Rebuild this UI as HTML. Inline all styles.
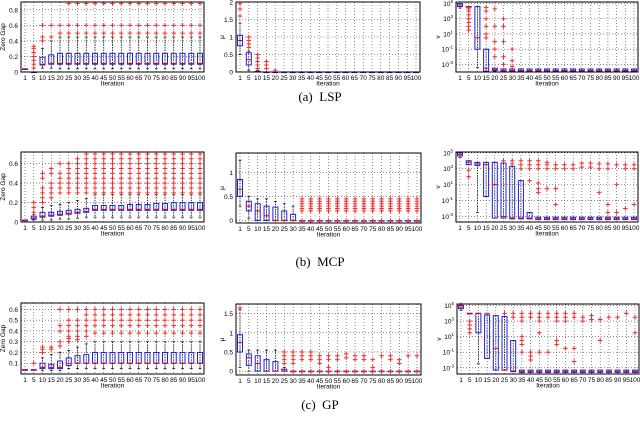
<!DOCTYPE html>
<html><head><meta charset="utf-8"><style>
html,body{margin:0;padding:0;background:#fff;width:640px;height:429px;overflow:hidden}
svg{display:block}
text{font-family:"Liberation Sans",sans-serif}
</style></head><body>
<svg id="fig" width="640" height="429"></svg>
<script>
const categories=[1,5,10,15,20,25,30,35,40,45,50,55,60,65,70,75,80,85,90,95,100];
categories.splice(0,0);const cats=[1,5,10,15,20,25,30,35,40,45,50,55,60,65,70,75,80,85,90,95,100].filter((v,i)=>i<20||true);
// 20 categories as in the figure: 1,5,...,95,100 (5 is not repeated)
const iterations=[1,5,10,15,20,25,30,35,40,45,50,55,60,65,70,75,80,85,90,95,100].slice(0,21);
const R=(v,n)=>Array(n).fill(v);
// ---- LSP ----
const a1Q1=[0.04,0,0.09,0.1,...R(0.1,17)];
const a1Med=[0.04,0,0.1,0.11,...R(0.11,17)];
const a1Q3=[0.04,0,0.19,0.22,...R(0.24,17)];
const a1Lo=[0.04,0,0.05,0.05,...R(0.04,17)];
const a1Hi=[0.04,0,0.3,0.4,...R(0.45,17)];
const a1Out=[[],[0.05,0.1,0.15,0.2,0.25,0.3,0.33],[0.4,0.45,0.6],[0.45,0.6],[0.5,0.6],...R([0.5,0.6,0.88],16)];
const a2Q1=[0.75,0.2,...R(0,19)];
const a2Med=[0.9,0.35,...R(0,19)];
const a2Q3=[1.05,0.55,0.02,...R(0,18)];
const a2Lo=[0.5,0.05,...R(0,19)];
const a2Hi=[1.4,0.6,0.05,...R(0,18)];
const a2Out=[[1.6,1.8,1.95],[0.7,0.8,0.9,1.0],[0.1,0.2,0.3,0.4,0.5],[0.1,0.2,0.3],[0.05],...R([],16)];
const a3Q1=[4.6,4.6,-1,-3.9,-3.8,...R(-3.9,16)];
const a3Med=[4.8,4.6,0.5,-3.5,-3.7,...R(-3.8,16)];
const a3Q3=[5.0,4.6,4.6,-1,-3.5,...R(-3.6,16)];
const a3Lo=[4.4,4.6,-3.4,-3.9,-3.9,...R(-3.9,16)];
const a3Hi=[5.0,4.6,4.6,-1,-3.5,...R(-3.6,16)];
const a3Out=[[],[1.5,2,2.5,3,3.5,4,4.3],[],[0.5,1,2,3,4,4.5],[-2,-1,0,2,4.3],[-3,-2,0,2,3],[-3.3,-2.5,-1],...R([],14)];
// ---- MCP ----
const b1Q1=[0.02,0.03,0.05,0.06,0.07,0.08,0.09,0.1,...R(0.12,13)];
const b1Med=[0.02,0.04,0.06,0.07,0.08,0.09,0.1,0.11,...R(0.13,13)];
const b1Q3=[0.02,0.06,0.1,0.1,0.11,0.12,0.13,0.14,0.17,0.17,0.17,0.17,0.18,0.18,0.18,0.19,0.19,0.2,0.2,0.2,0.2];
const b1Lo=[0.02,0.02,0.02,0.02,0.03,0.03,0.04,0.05,...R(0.05,13)];
const b1Hi=[0.02,0.08,0.15,0.17,0.18,0.2,0.22,0.24,...R(0.28,13)];
const b1Out=[[],[0.1,0.15,0.2],[0.2,0.25,0.3,0.35,0.45,0.5],[0.25,0.3,0.35,0.4,0.5,0.55],[0.3,0.35,0.4,0.45,0.5,0.6],[0.3,0.35,0.4,0.45,0.5,0.55,0.6],[0.3,0.35,0.4,0.45,0.5,0.55,0.6,0.65],...R([0.3,0.35,0.4,0.45,0.5,0.55,0.6,0.65,0.7],14)];
const b2Q1=[0.5,0.2,0,0,0,0,0,...R(0,14)];
const b2Med=[0.65,0.3,0.2,0.1,0,0,0,...R(0,14)];
const b2Q3=[0.85,0.4,0.35,0.3,0.28,0.2,0.13,...R(0,14)];
const b2Lo=[0.3,0.05,0,0,0,0,0,...R(0,14)];
const b2Hi=[1.25,0.5,0.45,0.45,0.4,0.35,0.3,...R(0,14)];
const b2Out=[[],[],[],[],[],[],[],...R([0,0.2,0.25,0.3,0.35,0.4,0.45],14)];
const b3Q1=[4.6,3.5,3.4,-0.5,-3.2,-3.2,-3.3,-3.3,-3.3,...R(-3.4,12)];
const b3Med=[4.8,3.8,3.6,3.5,1,-3,-3.2,-3.2,-3.2,...R(-3.3,12)];
const b3Q3=[5.0,4.0,3.8,3.8,3.8,3.7,3.3,1.5,-2.5,...R(-3.1,12)];
const b3Lo=[4.4,3.5,-2.5,-0.5,-3.2,-3.2,-3.3,-3.3,-3.3,...R(-3.4,12)];
const b3Hi=[5.0,4.0,3.8,3.8,3.8,3.7,3.3,1.5,-2.5,...R(-3.1,12)];
const b3Out=[[],[2,2.8],[],[],[],[4],[3.6,4],[3,3.5,4],[1.5,3,3.5,4],[0,0.5,1.2,3,3.5,4],[0.5,3,3.5,3.8],[-1.5,0.5,3,3.5],[3,3.5],[3,3.5],[3.2,3.7],[3.2,3.7],[0,3,3.6],[-2.5,-1.5,3,3.6],[-2.5,1,3.5],[-2,3,3.5],[-1.5,3,3.5]];
// ---- GP ----
const c1Q1=[0.04,0.04,0.05,0.05,0.05,0.08,0.1,0.1,...R(0.1,13)];
const c1Med=[0.04,0.04,0.06,0.06,0.06,0.1,0.1,0.1,...R(0.1,13)];
const c1Q3=[0.04,0.04,0.1,0.09,0.12,0.15,0.17,0.18,...R(0.2,13)];
const c1Lo=[0.04,0.04,0.03,0.03,0.03,0.05,0.05,0.05,...R(0.05,13)];
const c1Hi=[0.04,0.04,0.15,0.18,0.2,0.22,0.25,0.28,...R(0.3,13)];
const c1Out=[[],[0.1],[0.2,0.23,0.25],[0.23,0.25],[0.26,0.3,0.4,0.45,0.6],[0.3,0.33,0.35,0.4,0.45,0.5,0.6],[0.32,0.35,0.4,0.45,0.5,0.6],[0.35,0.4,0.45,0.5,0.55,0.6],...R([0.38,0.45,0.5,0.55,0.6],13)];
const c2Q1=[0.5,0.15,0,0,0,0,...R(0,15)];
const c2Med=[0.75,0.35,0.2,0,0,0,...R(0,15)];
const c2Q3=[0.95,0.45,0.4,0.3,0.25,0.05,...R(0,15)];
const c2Lo=[0.1,0,0,0,0,0,...R(0,15)];
const c2Hi=[1.6,0.55,0.55,0.55,0.55,0.1,...R(0,15)];
const c2Out=[[1.65],[],[],[],[],[0.2,0.3,0.4,0.5],[0,0.2,0.3,0.4,0.5],[0,0.3,0.4,0.5],[0,0.3,0.4,0.5],[0,0.2,0.3,0.4],[0,0.1,0.3,0.4],[0,0.3,0.4],[0,0.35,0.45],[0,0.3,0.4],[0,0.3,0.4],[0,0.1,0.3],[0,0.4],[0,0.3,0.4],[0,0.2,0.3],[0,0.4],[0,0.4]];
const c3Q1=[4.6,4,1.5,-1.8,-3.3,-3.3,-3.5,-3.6,...R(-3.6,13)];
const c3Med=[4.8,4,4,4,-0.5,-3.3,-3.4,-3.5,...R(-3.5,13)];
const c3Q3=[5.0,4,4,3.8,3.7,3.6,0.5,-3.3,...R(-3.3,13)];
const c3Lo=[4.4,4,-2.5,-1.8,-3.3,-3.3,-3.5,-3.6,...R(-3.6,13)];
const c3Hi=[5.0,4,4,3.8,3.7,3.6,0.5,-3.3,...R(-3.3,13)];
const c3Out=[[5.1],[1.5,2,2.5,3],[],[],[],[4],[3.5,4],[-1,0,0.5,1,3,3.5,4],[-2,-1.5,-1,3.5,4],[-1,1.5,3,3.5,4],[-1,3.5,4],[0,0.5,3,3.5,4],[-0.5,3,3.5,4],[-2.2,-0.5,3.5,4],[3,3.5],[3.2,3.7],[0.5,3.2],[3.5],[3.5],[4],[1.5,3.5]];

const panels=[
 {name:'lsp-zero-gap',x0:21,x1:204,y0:2,y1:72,min:0,max:0.9,ticks:[0,0.2,0.4,0.6,0.8],lab:'Zero Gap',log:false,d:[a1Q1,a1Med,a1Q3,a1Lo,a1Hi,a1Out]},
 {name:'lsp-mu',x0:236,x1:420,y0:2,y1:72,min:0,max:2,ticks:[0,0.5,1,1.5,2],lab:'\u03BC',log:false,d:[a2Q1,a2Med,a2Q3,a2Lo,a2Hi,a2Out]},
 {name:'lsp-nu',x0:456,x1:638,y0:2,y1:72,min:-4,max:5.2,ticks:[5,3,1,-1,-3],lab:'\u03BD',log:true,d:[a3Q1,a3Med,a3Q3,a3Lo,a3Hi,a3Out]},
 {name:'mcp-zero-gap',x0:21,x1:204,y0:152,y1:222,min:0,max:0.72,ticks:[0,0.2,0.4,0.6],lab:'Zero Gap',log:false,d:[b1Q1,b1Med,b1Q3,b1Lo,b1Hi,b1Out]},
 {name:'mcp-mu',x0:236,x1:421,y0:153,y1:223,min:-0.05,max:1.4,ticks:[0,0.5,1],lab:'\u03BC',log:false,d:[b2Q1,b2Med,b2Q3,b2Lo,b2Hi,b2Out]},
 {name:'mcp-nu',x0:456,x1:638,y0:152,y1:222,min:-3.7,max:5.1,ticks:[5,3,1,-1,-3],lab:'\u03BD',log:true,d:[b3Q1,b3Med,b3Q3,b3Lo,b3Hi,b3Out]},
 {name:'gp-zero-gap',x0:21,x1:204,y0:303,y1:374,min:0,max:0.66,ticks:[0.1,0.2,0.3,0.4,0.5,0.6],lab:'Zero Gap',log:false,d:[c1Q1,c1Med,c1Q3,c1Lo,c1Hi,c1Out]},
 {name:'gp-mu',x0:236,x1:421,y0:304,y1:375,min:-0.1,max:1.75,ticks:[0,0.5,1,1.5],lab:'\u03BC',log:false,d:[c2Q1,c2Med,c2Q3,c2Lo,c2Hi,c2Out]},
 {name:'gp-nu',x0:457,x1:639,y0:304,y1:374,min:-3.8,max:5.2,ticks:[5,3,1,-1,-3],lab:'\u03BD',log:true,d:[c3Q1,c3Med,c3Q3,c3Lo,c3Hi,c3Out]}
];
const captions=[['(a)','LSP',101],['(b)','MCP',266],['(c)','GP',409]];
const NS='http://www.w3.org/2000/svg';
const svg=document.getElementById('fig');
function mk(tag,attrs,parent){const e=document.createElementNS(NS,tag);for(const k in attrs)e.setAttribute(k,attrs[k]);(parent||svg).appendChild(e);return e;}
const labels=[1,5,10,15,20,25,30,35,40,45,50,55,60,65,70,75,80,85,90,95,100];
// figure has 20 ticks: 1,5,10,...,95,100 but 95 and 100 crowd; use 21 positions
panels.forEach(p=>{
  const g=mk('g',{});
  
  
  const n=labels.length;
  const xs=i=>p.x0+4+i*(p.x1-p.x0-8)/(n-1);
  const ys=v=>p.y1-(v-p.min)/(p.max-p.min)*(p.y1-p.y0);
  // grid
  labels.forEach((c,i)=>{const l=mk('line',{x1:xs(i),x2:xs(i),y1:p.y0,y2:p.y1,stroke:'#444','stroke-width':0.6,'stroke-dasharray':'1,2'},g);});
  p.ticks.forEach(t=>{const y=ys(t);const l=mk('line',{x1:p.x0,x2:p.x1,y1:y,y2:y,stroke:'#444','stroke-width':0.6,'stroke-dasharray':'1,2'},g);
    const tx=mk('text',{x:p.x0-3,y:y+2.5,'font-size':6.5,'text-anchor':'end',fill:'#000'},g);
    if(p.log){tx.textContent='10';const s=mk('tspan',{dy:-3,'font-size':4.5},tx);s.textContent=String(t);}else tx.textContent=String(t);
    });
  // boxes
  const [q1,md,q3,lo,hi,out]=p.d;
  labels.forEach((c,i)=>{
    const x=xs(i),w=2.5;
    if(q3[i]-q1[i]>0.0001||hi[i]-lo[i]>0.0001){
      const wl=mk('line',{x1:x,x2:x,y1:ys(hi[i]),y2:ys(lo[i]),stroke:'#000','stroke-width':0.7,'stroke-dasharray':'1.5,1'},g);
      
      [hi[i],lo[i]].forEach(v=>{const c2=mk('line',{x1:x-1.5,x2:x+1.5,y1:ys(v),y2:ys(v),stroke:'#000','stroke-width':0.7},g);});
    }
    const bt=ys(q3[i]),bb=ys(q1[i]);
    const r=mk('rect',{x:x-w,y:bt,width:2*w,height:Math.max(0.6,bb-bt),fill:'none',stroke:'#2020e0','stroke-width':1},g);
    
    const m=mk('line',{x1:x-w,x2:x+w,y1:ys(md[i]),y2:ys(md[i]),stroke:'#e00','stroke-width':1},g);
    
    (out[i]||[]).forEach(v=>{const y=ys(v);const o=mk('path',{d:`M${x-2.3} ${y}H${x+2.3}M${x} ${y-2.3}V${y+2.3}`,stroke:'#f03030','stroke-width':1},g);});
    const tl=mk('text',{x:x,y:p.y1+8,'font-size':6.5,'text-anchor':'middle',fill:'#000'},g);tl.textContent=String(c);
    
  });
  const fr=mk('rect',{x:p.x0,y:p.y0,width:p.x1-p.x0,height:p.y1-p.y0,fill:'none',stroke:'#000','stroke-width':1},g);
  
  const xl=mk('text',{x:(p.x0+p.x1)/2,y:p.y1+13.5,'font-size':6.5,'text-anchor':'middle'},g);xl.textContent='Iteration';
  
  const lx=p.x0-(p.log?16:(p.lab==='Zero Gap'?16:12)),ly=(p.y0+p.y1)/2;
  const yl=mk('text',{x:lx,y:ly,'font-size':6.5,'text-anchor':'middle',transform:`rotate(-90 ${lx} ${ly})`},g);yl.textContent=p.lab;
  
});
captions.forEach(c=>{const t=mk('text',{x:320,y:c[2],'font-size':13,'text-anchor':'middle','font-family':'Liberation Serif, serif'});t.style.fontFamily='"Liberation Serif",serif';t.textContent=c[0]+'\u00A0\u00A0'+c[1];
  });
</script>
</body></html>
